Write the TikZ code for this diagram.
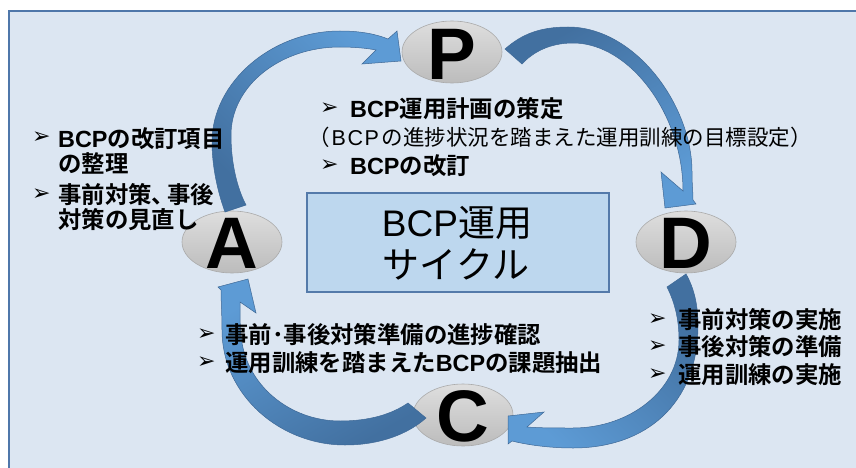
\documentclass[tikz,border=0pt]{standalone}
\usepackage{fontspec}
\setmainfont{Liberation Sans}
\newfontfamily\jp{Noto Sans CJK JP}[BoldFont={Noto Sans CJK JP Bold}]
\newfontfamily\dv{DejaVu Sans}
\usetikzlibrary{shapes.geometric}
\definecolor{bgfill}{RGB}{220,230,242}
\definecolor{frameline}{RGB}{79,119,170}
\definecolor{boxfill}{RGB}{189,215,238}
\definecolor{boxline}{RGB}{84,122,170}
\definecolor{arrdark}{RGB}{66,112,160}
\definecolor{arrlight}{RGB}{93,155,213}
\definecolor{arredge}{RGB}{62,104,150}
\definecolor{elltop}{RGB}{222,222,222}
\definecolor{ellbot}{RGB}{188,188,188}
\definecolor{elledge}{RGB}{170,170,170}
\newcommand\BCP{{\rmfamily BCP}}
\begin{document}
\begin{tikzpicture}[x=1pt,y=-1pt,
 ell/.style={ellipse, draw=elledge, line width=0.6pt, top color=elltop, bottom color=ellbot,
   minimum width=100pt, minimum height=62pt, inner sep=0pt},
 letter/.style={font=\bfseries\fontsize{73}{73}\selectfont, inner sep=0pt},
 note/.style={font=\jp\bfseries\fontsize{23.4}{23.4}\selectfont, anchor=west, inner sep=0pt,
   text height=20.6pt, text depth=2.8pt},
 notereg/.style={font=\jp\fontsize{21.5}{21.5}\selectfont, anchor=west, inner sep=0pt,
   text height=18.9pt, text depth=2.6pt},
 bullet/.style={font=\dv\fontsize{22}{22}\selectfont, anchor=west, inner sep=0pt},
 title/.style={font=\jp\fontsize{37}{37}\selectfont, inner sep=0pt,
   text height=32.6pt, text depth=4.4pt},
 arrowband/.style={draw=arredge, line width=0.5pt, top color=arrdark, bottom color=arrlight}
]
\useasboundingbox (0,0) rectangle (856,468);
\clip (0,0) rectangle (856,468);
\fill[white] (0,0) rectangle (856,468);
% frame
\draw[draw=frameline, line width=1.5pt, fill=bgfill] (9,11) rectangle (880,490);
% central box
\node[draw=boxline, line width=1.2pt, fill=boxfill, minimum width=302pt, minimum height=99pt, inner sep=0pt] (box) at (458,242.5) {};
% ellipses
\node[ell] (P) at (452,52) {};
\node[ell] (A) at (232,242) {};
\node[ell] (D) at (686,242) {};
\node[ell] (C) at (463,415) {};
% arrows
\path[arrowband, shading angle=135]
 (225,212) .. controls (217,190) and (212,165) .. (212,142)
 .. controls (212,82) and (272,31) .. (340,31)
 .. controls (360,31) and (376,34) .. (388,39)
 -- (397,31) -- (401,61) -- (362,64) -- (376,50)
 .. controls (366,48) and (352,47) .. (340,47)
 .. controls (280,47) and (231,86) .. (231,135)
 .. controls (231,165) and (238,190) .. (246,205) -- cycle;
\path[arrowband, shading angle=30]
 (505,49) .. controls (522,34) and (540,27) .. (568,27)
 .. controls (635,27) and (692,105) .. (692,172)
 .. controls (692,185) and (693,192) .. (693,200)
 -- (696,204) -- (665,208) -- (661,172) -- (683,191)
 .. controls (683,115) and (630,43) .. (573,43)
 .. controls (550,43) and (533,52) .. (522,64) -- cycle;
\path[arrowband, shading angle=-45]
 (686,274) .. controls (694,288) and (698,305) .. (698,325)
 .. controls (698,405) and (645,448) .. (573,448)
 .. controls (550,448) and (528,445) .. (512,441)
 -- (508,444) -- (508,416) -- (544,412) -- (527,427)
 .. controls (540,428) and (556,428) .. (573,428)
 .. controls (630,428) and (679,390) .. (679,340)
 .. controls (679,320) and (675,303) .. (667,287) -- cycle;
\path[arrowband, shading angle=210]
 (426,418) .. controls (408,434) and (380,445) .. (345,445)
 .. controls (280,445) and (222,395) .. (222,330)
 .. controls (222,315) and (221,300) .. (221,290)
 -- (218,287) -- (248,279) -- (256,313) -- (240,302)
 .. controls (240,315) and (240,325) .. (241,335)
 .. controls (245,385) and (290,421) .. (340,421)
 .. controls (370,421) and (392,414) .. (408,403) -- cycle;
% letters
\node[letter] (Pl) at ([yshift=-2pt]P.center) {P};
\node[letter] (Al) at ([yshift=-1pt]A.center) {A};
\node[letter] (Dl) at ([yshift=-1pt]D.center) {D};
\node[letter] (Cl) at ([yshift=-1pt]C.center) {C};
% box title
\node[title] (t1) at (457,222) {\BCP 運用};
\node[title] (t2) at (456,264) {サイクル};
% P notes
\node[bullet] (pb1) at (320,109) {➢};
\node[note] (pn1) at (350,109) {\BCP 運用計画の策定};
\node[notereg] (pn2) at (308,137.5) {（\kern2pt{\rmfamily B\kern1.5pt C\kern1.5pt P}\kern3pt の進捗状況を踏まえた運用訓練の目標設定）};
\node[bullet] (pb2) at (320,166) {➢};
\node[note] (pn3) at (350,166) {\BCP の改訂};
% A notes
\node[bullet] (ab1) at (32,138) {➢};
\node[note] (an1) at (58,138.5) {\BCP の改訂項目};
\node[note] (an2) at (58,164) {の整理};
\node[bullet] (ab2) at (32,195) {➢};
\node[note] (an3) at (58,195) {事前対策、\kern-8pt 事後};
\node[note] (an4) at (58,220) {対策の見直し};
% C notes
\node[bullet] (cb1) at (197,335) {➢};
\node[note] (cn1) at (225,335) {事前･事後対策準備の進捗確認};
\node[bullet] (cb2) at (197,363) {➢};
\node[note] (cn2) at (225,363) {運用訓練を踏まえた\BCP の課題抽出};
% D notes
\node[bullet] (db1) at (648,320) {➢};
\node[note] (dn1) at (678,320) {事前対策の実施};
\node[bullet] (db2) at (648,347) {➢};
\node[note] (dn2) at (678,347) {事後対策の準備};
\node[bullet] (db3) at (648,375) {➢};
\node[note] (dn3) at (678,375) {運用訓練の実施};
\end{tikzpicture}
\end{document}
